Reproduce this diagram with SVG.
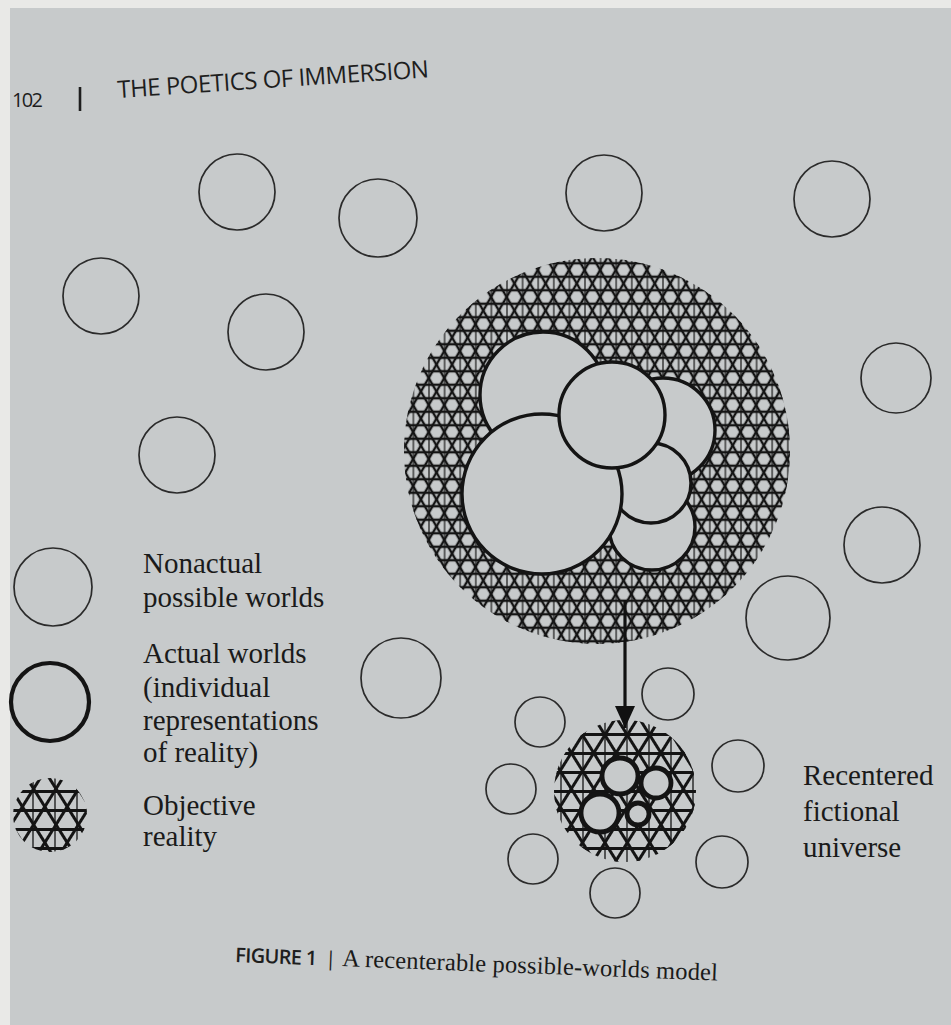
<svg xmlns="http://www.w3.org/2000/svg" width="951" height="1025" viewBox="0 0 951 1025">
<style>
.paper{fill:#c7cacb}
.thin{fill:none;stroke:#2b2b2b;stroke-width:1.7}
.act{fill:#c7cacb;stroke:#141414;stroke-width:3.4}
.act2{fill:#c7cacb;stroke:#141414;stroke-width:4.8}
.lab{font-family:"Liberation Serif",serif;font-size:29px;fill:#1a1a1a}
.hdr{font-family:"Open Sans","Liberation Sans",sans-serif;fill:#1e1e1e}
.hl{stroke:#141414;fill:none}
</style>
<defs>
<pattern id="bA" patternUnits="userSpaceOnUse" width="60" height="13.5" patternTransform="rotate(0)"><line class="hl" x1="0" y1="6.75" x2="60" y2="6.75" stroke-width="2.3"/></pattern>
<pattern id="bB" patternUnits="userSpaceOnUse" width="60" height="13.5" patternTransform="rotate(60)"><line class="hl" x1="0" y1="6.75" x2="60" y2="6.75" stroke-width="2.3"/></pattern>
<pattern id="bC" patternUnits="userSpaceOnUse" width="60" height="13.5" patternTransform="rotate(-60)"><line class="hl" x1="0" y1="6.75" x2="60" y2="6.75" stroke-width="2.3"/></pattern>
<pattern id="bV" patternUnits="userSpaceOnUse" width="15.6" height="60"><line class="hl" x1="7.8" y1="0" x2="7.8" y2="60" stroke-width="1.2"/></pattern>

<pattern id="sA" patternUnits="userSpaceOnUse" width="80" height="19" patternTransform="translate(0 3)"><line class="hl" x1="0" y1="9.5" x2="80" y2="9.5" stroke-width="2.8"/></pattern>
<pattern id="sB" patternUnits="userSpaceOnUse" width="80" height="19" patternTransform="rotate(58)"><line class="hl" x1="0" y1="9.5" x2="80" y2="9.5" stroke-width="2.8"/></pattern>
<pattern id="sC" patternUnits="userSpaceOnUse" width="80" height="19" patternTransform="rotate(-58)"><line class="hl" x1="0" y1="9.5" x2="80" y2="9.5" stroke-width="2.8"/></pattern>
<pattern id="sV" patternUnits="userSpaceOnUse" width="22" height="80"><line class="hl" x1="11" y1="0" x2="11" y2="80" stroke-width="1.3"/></pattern>

<marker id="ah" viewBox="0 0 22 20" refX="22" refY="10" markerWidth="22" markerHeight="20" orient="auto" markerUnits="userSpaceOnUse">
<path d="M0 0L22 10L0 20Z" fill="#111"/>
</marker>
</defs>
<rect width="951" height="1025" fill="#e9e9e7"/>
<rect x="10" y="8" width="941" height="1017" class="paper"/>

<g id="header">
<text class="hdr" x="12" y="107" font-size="20" textLength="31">102</text>
<line x1="80" y1="87" x2="80" y2="111" stroke="#1e1e1e" stroke-width="2.6"/>
<text class="hdr" x="118" y="98" font-size="24" textLength="312" transform="rotate(-3.8 118 98)">THE POETICS OF IMMERSION</text>
</g>

<g id="nonactual-worlds">
<circle class="thin" cx="237" cy="192" r="38"/>
<circle class="thin" cx="378" cy="218" r="39"/>
<circle class="thin" cx="101" cy="296" r="38"/>
<circle class="thin" cx="266" cy="332" r="38"/>
<circle class="thin" cx="177" cy="455" r="38"/>
<circle class="thin" cx="604" cy="193" r="38"/>
<circle class="thin" cx="832" cy="199" r="38"/>
<circle class="thin" cx="896" cy="378" r="35"/>
<circle class="thin" cx="882" cy="545" r="38"/>
<circle class="thin" cx="788" cy="618" r="42"/>
<circle class="thin" cx="401" cy="678" r="40"/>
<circle class="thin" cx="540" cy="722" r="25"/>
<circle class="thin" cx="668" cy="694" r="26"/>
<circle class="thin" cx="511" cy="789" r="25"/>
<circle class="thin" cx="738" cy="766" r="26"/>
<circle class="thin" cx="533" cy="859" r="25"/>
<circle class="thin" cx="615" cy="893" r="25"/>
<circle class="thin" cx="722" cy="862" r="26"/>
</g>

<g id="objective-reality">
<circle cx="597" cy="451" r="193" fill="url(#bV)"/>
<circle cx="597" cy="451" r="193" fill="url(#bA)"/>
<circle cx="597" cy="451" r="193" fill="url(#bB)"/>
<circle cx="597" cy="451" r="193" fill="url(#bC)"/>
<circle class="act" cx="663" cy="430" r="52"/>
<circle class="act" cx="543" cy="395" r="63"/>
<circle class="act" cx="652" cy="527" r="43"/>
<circle class="act" cx="651" cy="483" r="40"/>
<circle class="act" cx="542" cy="494" r="80"/>
<circle class="act" cx="612" cy="415" r="53"/>
</g>

<g id="recentered-universe">
<circle cx="625" cy="791" r="71" fill="url(#sV)"/>
<circle cx="625" cy="791" r="71" fill="url(#sA)"/>
<circle cx="625" cy="791" r="71" fill="url(#sB)"/>
<circle cx="625" cy="791" r="71" fill="url(#sC)"/>
<circle class="act2" cx="620" cy="776" r="18"/>
<circle class="act2" cx="656" cy="783" r="15"/>
<circle class="act2" cx="600" cy="813" r="19"/>
<circle class="act2" cx="638" cy="814" r="11"/>
<text class="lab" x="803" y="785">Recentered</text>
<text class="lab" x="803" y="821">fictional</text>
<text class="lab" x="803" y="857">universe</text>
</g>

<g id="connectors">
<line x1="625" y1="600" x2="625" y2="728" stroke="#111" stroke-width="3.2" marker-end="url(#ah)"/>
</g>

<g id="legend-nonactual">
<circle class="thin" cx="53" cy="587" r="39"/>
<text class="lab" x="143" y="573">Nonactual</text>
<text class="lab" x="143" y="607">possible worlds</text>
</g>
<g id="legend-actual">
<circle cx="50" cy="702" r="39" fill="none" stroke="#141414" stroke-width="4.2"/>
<text class="lab" x="143" y="663">Actual worlds</text>
<text class="lab" x="143" y="697">(individual</text>
<text class="lab" x="143" y="730">representations</text>
<text class="lab" x="143" y="762">of reality)</text>
</g>
<g id="legend-objective">
<circle cx="50" cy="815" r="37" fill="url(#sV)"/>
<circle cx="50" cy="815" r="37" fill="url(#sA)"/>
<circle cx="50" cy="815" r="37" fill="url(#sB)"/>
<circle cx="50" cy="815" r="37" fill="url(#sC)"/>
<text class="lab" x="143" y="815">Objective</text>
<text class="lab" x="143" y="846">reality</text>
</g>

<g id="caption">
<g transform="rotate(2.2 235 962)">
<text class="hdr" x="235" y="962" font-size="20" font-weight="600" textLength="82">FIGURE 1</text>
<text class="hdr" x="325" y="962" font-size="20">|</text>
<text x="342" y="962" font-family="Liberation Serif,serif" font-size="24.5" fill="#1a1a1a" textLength="376">A recenterable possible-worlds model</text>
</g>
</g>
</svg>
